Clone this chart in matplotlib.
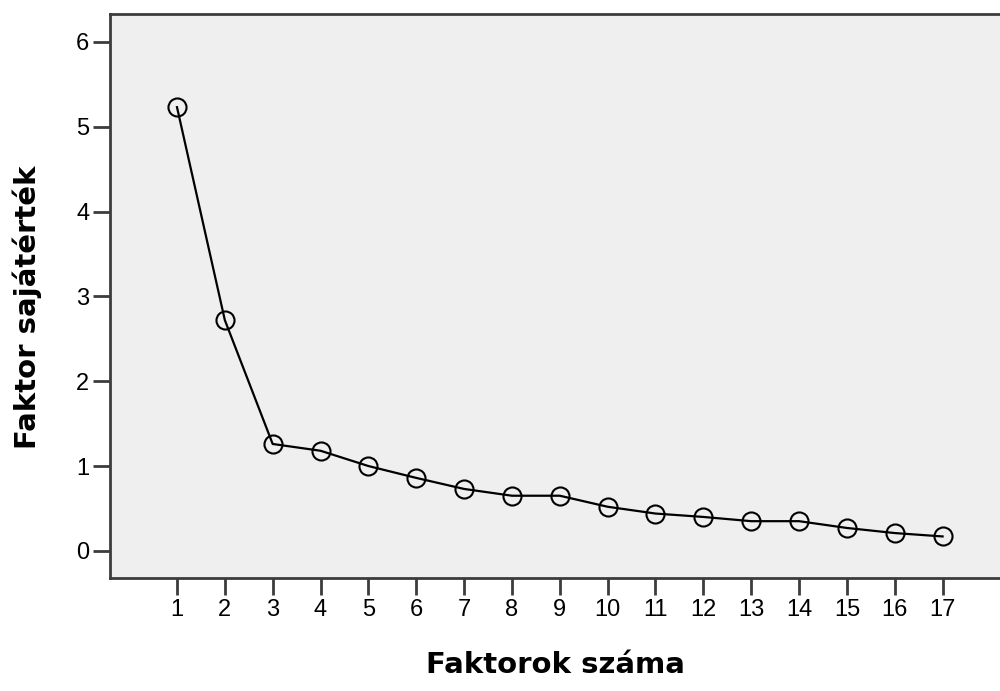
import numpy as np
import matplotlib
matplotlib.use("Agg")
import matplotlib.pyplot as plt

plt.rcParams['font.family'] = ['Liberation Sans', 'DejaVu Sans']

factors = list(range(1, 18))
eigenvalues = [5.23, 2.72, 1.26, 1.18, 1.00, 0.86, 0.73, 0.65, 0.65,
               0.52, 0.44, 0.40, 0.35, 0.35, 0.27, 0.21, 0.17]
yticks = [0, 1, 2, 3, 4, 5, 6]

fig = plt.figure(figsize=(10, 6.91), dpi=100)
ax = fig.add_axes([0.11, 0.1635, 0.89, 0.8165])
ax.set_facecolor('#efefef')

ax.plot(factors, eigenvalues, color='black', lw=1.6, marker='o', ms=13,
        mfc='none', mec='black', mew=1.5)

ax.set_xlim(-0.4, 18.2)
ax.set_ylim(-0.32, 6.33)
ax.set_xticks(factors)
ax.set_yticks(yticks)

for side in ['left', 'bottom', 'top']:
    ax.spines[side].set_linewidth(2.0)
    ax.spines[side].set_color('#3c3c3c')
ax.spines['right'].set_visible(False)

ax.tick_params(direction='out', length=12, width=2.0, color='#3c3c3c',
               labelsize=17, pad=3)

lab_font = dict(family='DejaVu Sans', fontsize=21, fontweight='bold')
ax.set_xlabel('Faktorok száma', labelpad=22, **lab_font)
ax.set_ylabel('Faktor sajátérték', **lab_font)
ax.yaxis.set_label_coords(-0.076, 0.48)

fig.savefig('out.png', dpi=100)
